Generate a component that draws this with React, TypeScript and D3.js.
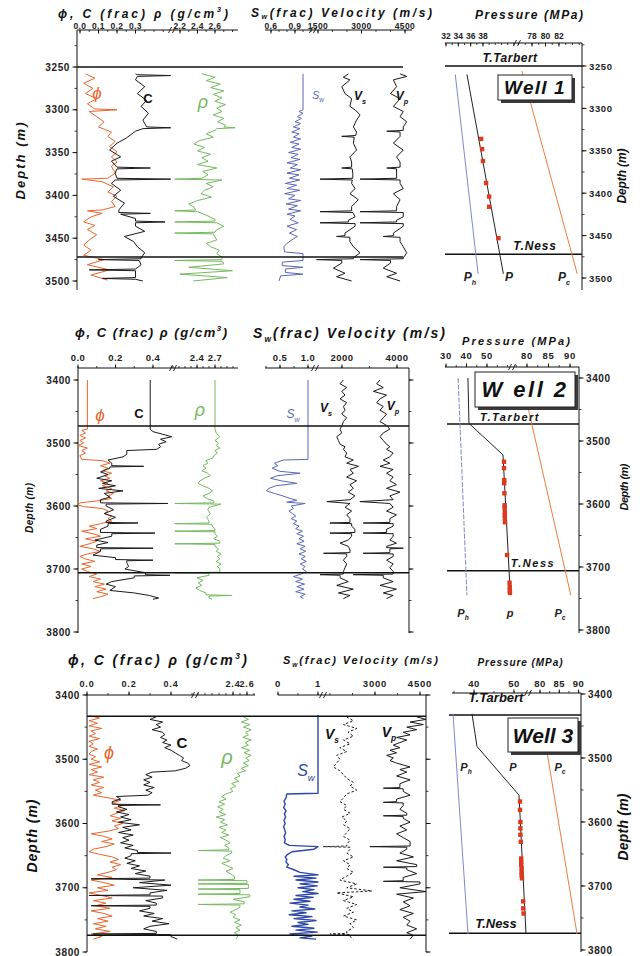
import React from "react";
import * as d3 from "d3";

type Pt = [number, number];

// ---------- Well 1 : log curves [depth (m), value] ----------
const w1Phi: Pt[] = [[3258,0.03],[3263,0.08],[3269,0.02],[3275,0.07],[3281,0.03],[3287,0.09],[3293,0.04],[3299,0.08],[3300,0.2],[3302,0.05],[3308,0.09],[3314,0.13],[3320,0.1],[3326,0.17],[3331,0.15],[3337,0.19],[3343,0.16],[3349,0.2],[3355,0.17],[3361,0.2],[3366,0.17],[3374,0.19],[3380,0.15],[3381,0.01],[3384,0.12],[3390,0.18],[3396,0.15],[3401,0.2],[3407,0.17],[3413,0.19],[3417,0.12],[3418,0.04],[3421,0.12],[3425,0.06],[3431,0.02],[3435,0.08],[3440,0.04],[3446,0.09],[3452,0.05],[3458,0.02],[3464,0.06],[3470,0.02],[3475,0.13],[3481,0.04],[3487,0.16],[3493,0.06],[3499,0.15]];
const w1C: Pt[] = [[3258,0.3],[3259,0.31],[3260,0.49],[3261,0.31],[3265,0.3],[3273,0.35],[3281,0.31],[3289,0.36],[3296,0.33],[3304,0.37],[3312,0.34],[3320,0.36],[3321,0.49],[3322,0.34],[3325,0.3],[3333,0.25],[3339,0.2],[3347,0.16],[3355,0.22],[3360,0.17],[3367,0.2],[3368,0.38],[3369,0.2],[3374,0.19],[3380,0.2],[3381,0.49],[3382,0.19],[3386,0.17],[3394,0.22],[3401,0.18],[3409,0.24],[3417,0.21],[3420,0.21],[3421,0.38],[3422,0.22],[3427,0.3],[3430,0.3],[3431,0.46],[3432,0.3],[3436,0.3],[3442,0.35],[3448,0.24],[3454,0.29],[3460,0.31],[3467,0.35],[3473,0.33],[3474,0.33],[3475,0.1],[3476,0.32],[3481,0.33],[3486,0.3],[3487,0.05],[3488,0.3],[3493,0.3],[3496,0.3],[3497,0.12],[3498,0.3],[3500,0.34]];
const w1Rho: Pt[] = [[3258,2.45],[3262,2.6],[3266,2.5],[3270,2.66],[3274,2.55],[3278,2.7],[3282,2.58],[3286,2.68],[3290,2.6],[3294,2.72],[3298,2.62],[3302,2.68],[3306,2.58],[3310,2.7],[3314,2.63],[3318,2.72],[3320,2.7],[3321,2.83],[3322,2.62],[3324,2.6],[3328,2.5],[3332,2.58],[3336,2.42],[3340,2.36],[3344,2.48],[3348,2.4],[3352,2.55],[3356,2.45],[3360,2.52],[3364,2.4],[3368,2.62],[3372,2.46],[3376,2.52],[3380,2.45],[3381,2.14],[3382,2.68],[3386,2.5],[3390,2.58],[3394,2.48],[3398,2.44],[3402,2.56],[3406,2.4],[3410,2.3],[3414,2.36],[3417,2.38],[3418,2.14],[3419,2.4],[3424,2.52],[3428,2.6],[3430,2.6],[3431,2.14],[3432,2.62],[3436,2.7],[3440,2.62],[3443,2.6],[3444,2.14],[3445,2.58],[3452,2.62],[3456,2.5],[3460,2.55],[3464,2.65],[3468,2.62],[3472,2.68],[3475,2.68],[3476,2.14],[3477,2.68],[3480,2.7],[3484,2.3],[3488,2.8],[3492,2.2],[3496,2.74],[3500,2.35]];
const w1Sw: Pt[] = [[3258,1],[3300,1],[3302,0.95],[3304,1],[3308,0.93],[3310,0.98],[3314,0.9],[3316,0.97],[3320,0.88],[3322,0.96],[3326,0.86],[3328,0.95],[3332,0.88],[3334,0.97],[3338,0.84],[3340,0.95],[3344,0.86],[3346,0.97],[3350,0.82],[3352,0.94],[3356,0.85],[3358,0.96],[3362,0.8],[3364,0.93],[3368,0.84],[3370,0.97],[3374,0.8],[3376,0.95],[3380,0.83],[3382,0.96],[3386,0.78],[3388,0.92],[3392,0.8],[3394,0.96],[3398,0.77],[3400,0.9],[3404,0.82],[3406,0.97],[3410,0.79],[3412,0.93],[3416,0.82],[3418,0.97],[3422,0.8],[3424,0.9],[3428,0.84],[3432,0.94],[3436,0.8],[3440,0.92],[3444,0.83],[3448,0.93],[3452,0.86],[3456,0.8],[3460,0.76],[3466,0.77],[3468,1],[3476,1],[3478,0.74],[3482,0.74],[3484,1],[3486,0.78],[3490,0.78],[3492,1],[3494,0.72],[3500,0.7]];
const w1Vs: Pt[] = [[3258,2550],[3262,2370],[3265,2600],[3273,2320],[3281,2430],[3287,2660],[3296,2600],[3300,2780],[3306,2950],[3312,2830],[3320,2720],[3326,2830],[3330,2800],[3331,2320],[3332,2750],[3339,2720],[3347,2830],[3355,2600],[3361,2660],[3367,2660],[3368,2320],[3369,2680],[3374,2700],[3380,2700],[3381,1570],[3382,2680],[3386,2660],[3392,2780],[3398,2600],[3405,2890],[3413,2660],[3418,2660],[3419,1570],[3420,2700],[3425,2780],[3429,2550],[3431,2550],[3432,1570],[3433,2780],[3436,2780],[3444,2430],[3447,2430],[3448,2140],[3449,2600],[3454,2600],[3460,2720],[3467,2950],[3473,2720],[3474,2720],[3475,1450],[3476,2320],[3479,2320],[3485,2030],[3491,2430],[3495,2140],[3500,2660]];
const w1Vp: Pt[] = [[3258,4330],[3261,4560],[3265,4100],[3273,4210],[3281,4000],[3287,4330],[3296,4100],[3302,4440],[3308,4330],[3314,4560],[3320,4440],[3324,4440],[3325,3870],[3326,4330],[3331,4330],[3339,4100],[3347,4440],[3355,4210],[3361,4330],[3367,4330],[3368,3870],[3369,4210],[3374,4210],[3380,4210],[3381,2950],[3382,4330],[3386,4330],[3392,4440],[3398,4100],[3405,4330],[3413,4210],[3418,4210],[3419,2950],[3420,4440],[3425,4440],[3429,4210],[3431,4210],[3432,2950],[3433,4440],[3436,4440],[3444,4100],[3447,4100],[3448,3750],[3449,4330],[3454,4330],[3460,4440],[3467,4560],[3473,4440],[3474,4440],[3475,2950],[3476,4000],[3479,4000],[3485,3750],[3491,4210],[3495,3870],[3500,4330]];
// Well 1 : pressure (MPa)
const w1Ph: Pt[] = [[3260,33.5],[3495,37.2]];
const w1P: Pt[] = [[3260,35.4],[3495,41.3]];
const w1Pc: Pt[] = [[3256,76.5],[3495,84.7]];
const w1Meas: Pt[] = [[3336,37.7],[3348,37.85],[3362,38.0],[3388,38.5],[3404,39.0],[3416,39.0],[3453,40.5]];
const w1Tops = [3250, 3472];
const w1DepthTicks = [3250, 3300, 3350, 3400, 3450, 3500];

// ---------- Well 2 ----------
const w2Phi: Pt[] = [[3400,0.05],[3478,0.05],[3480,0.02],[3484,0.04],[3488,0.01],[3492,0.04],[3496,0.01],[3500,0.03],[3504,0.0],[3508,0.05],[3512,0.02],[3516,0.04],[3520,0.01],[3526,0.02],[3528,0.13],[3532,0.17],[3536,0.12],[3540,0.16],[3544,0.13],[3548,0.18],[3552,0.14],[3556,0.17],[3560,0.12],[3564,0.16],[3568,0.13],[3572,0.18],[3576,0.15],[3580,0.19],[3584,0.16],[3588,0.18],[3592,0.1],[3595,0.01],[3598,0.0],[3601,0.03],[3604,0.13],[3608,0.16],[3612,0.14],[3616,0.18],[3620,0.16],[3624,0.18],[3628,0.12],[3632,0.06],[3636,0.1],[3640,0.02],[3644,0.08],[3648,0.12],[3652,0.04],[3656,0.1],[3660,0.06],[3664,0.01],[3668,0.08],[3672,0.12],[3676,0.05],[3680,0.01],[3684,0.04],[3688,0.09],[3692,0.02],[3696,0.07],[3700,0.02],[3704,0.05],[3708,0.1],[3712,0.06],[3716,0.12],[3720,0.08],[3724,0.14],[3728,0.09],[3732,0.15],[3736,0.1],[3740,0.16],[3744,0.12],[3747,0.08]];
const w2C: Pt[] = [[3400,0.385],[3478,0.385],[3482,0.4],[3486,0.45],[3490,0.5],[3494,0.44],[3498,0.47],[3502,0.43],[3506,0.44],[3510,0.42],[3512,0.26],[3518,0.26],[3522,0.24],[3527,0.16],[3532,0.18],[3536,0.18],[3537,0.35],[3538,0.17],[3540,0.17],[3546,0.12],[3550,0.16],[3556,0.1],[3560,0.18],[3564,0.13],[3568,0.2],[3572,0.11],[3576,0.24],[3580,0.14],[3586,0.17],[3590,0.12],[3595,0.12],[3596,0.48],[3597,0.15],[3600,0.15],[3606,0.19],[3612,0.14],[3618,0.2],[3624,0.15],[3626,0.15],[3627,0.32],[3628,0.16],[3632,0.16],[3637,0.12],[3642,0.12],[3643,0.41],[3644,0.18],[3648,0.18],[3654,0.09],[3658,0.16],[3662,0.1],[3666,0.1],[3667,0.4],[3668,0.12],[3672,0.12],[3678,0.08],[3682,0.2],[3685,0.2],[3686,0.4],[3687,0.26],[3690,0.26],[3696,0.27],[3700,0.25],[3706,0.36],[3709,0.36],[3710,0.49],[3711,0.3],[3714,0.3],[3720,0.18],[3724,0.15],[3728,0.2],[3734,0.17],[3738,0.3],[3742,0.38],[3746,0.43],[3748,0.4]];
const w2Rho: Pt[] = [[3400,2.7],[3478,2.7],[3484,2.72],[3490,2.78],[3496,2.7],[3500,2.76],[3504,2.72],[3508,2.78],[3512,2.7],[3516,2.74],[3520,2.68],[3524,2.66],[3528,2.55],[3532,2.58],[3536,2.5],[3540,2.55],[3544,2.48],[3548,2.58],[3552,2.62],[3556,2.52],[3560,2.45],[3564,2.42],[3568,2.5],[3572,2.6],[3576,2.66],[3580,2.6],[3584,2.5],[3588,2.56],[3592,2.68],[3595,2.68],[3596,2.03],[3597,2.8],[3602,2.6],[3606,2.58],[3612,2.62],[3618,2.56],[3624,2.6],[3627,2.6],[3628,2.03],[3629,2.65],[3632,2.65],[3636,2.7],[3639,2.7],[3640,2.03],[3641,2.7],[3644,2.7],[3648,2.74],[3652,2.68],[3656,2.78],[3659,2.78],[3660,2.03],[3661,2.7],[3664,2.7],[3668,2.76],[3672,2.72],[3676,2.8],[3680,2.74],[3684,2.78],[3688,2.72],[3692,2.8],[3696,2.74],[3700,2.78],[3705,2.78],[3706,2.03],[3707,2.6],[3710,2.6],[3714,2.4],[3718,2.5],[3722,2.42],[3726,2.48],[3730,2.38],[3734,2.44],[3738,2.55],[3741,2.55],[3742,2.98],[3743,2.6],[3746,2.6],[3748,2.65]];
const w2Sw: Pt[] = [[3400,1],[3526,1],[3527,0.56],[3532,0.4],[3536,0.46],[3540,0.36],[3545,0.5],[3548,0.86],[3552,0.45],[3556,0.33],[3560,0.52],[3564,0.8],[3568,0.42],[3572,0.3],[3576,0.26],[3580,0.4],[3584,0.55],[3588,0.68],[3591,0.8],[3594,0.62],[3596,0.95],[3600,0.7],[3604,0.74],[3608,0.66],[3612,0.72],[3616,0.78],[3620,0.7],[3624,0.8],[3628,0.74],[3632,0.84],[3636,0.78],[3640,0.9],[3644,0.8],[3648,0.92],[3652,0.84],[3656,0.93],[3660,0.8],[3664,0.95],[3668,0.86],[3672,0.96],[3676,0.84],[3680,0.95],[3684,0.88],[3688,0.97],[3692,0.86],[3696,0.95],[3700,0.9],[3704,0.97],[3708,0.88],[3712,0.74],[3716,0.9],[3720,0.78],[3724,0.94],[3728,0.8],[3732,0.93],[3736,0.78],[3740,0.95],[3744,0.86],[3747,0.92]];
const w2Vs: Pt[] = [[3400,2050],[3406,1930],[3412,2170],[3418,1990],[3424,2110],[3430,1930],[3436,2170],[3442,2050],[3448,2110],[3454,1990],[3460,2170],[3466,2050],[3472,2000],[3478,1930],[3484,1990],[3490,1810],[3496,1870],[3502,1930],[3506,2110],[3510,2050],[3516,2170],[3522,2110],[3527,2410],[3532,2170],[3537,2600],[3542,2290],[3548,2410],[3554,2170],[3560,2530],[3566,2290],[3572,2410],[3578,2230],[3584,2470],[3590,2290],[3593,1450],[3596,2290],[3602,2110],[3608,2350],[3614,2170],[3620,2290],[3626,2290],[3627,1560],[3628,2350],[3632,2350],[3637,2470],[3642,2470],[3643,1560],[3644,2350],[3648,2350],[3654,2230],[3659,1930],[3664,2230],[3670,2290],[3674,2290],[3675,1330],[3676,2170],[3680,2170],[3686,2050],[3692,2170],[3698,2110],[3704,2050],[3708,2050],[3709,1200],[3710,1930],[3714,1930],[3720,2230],[3726,1810],[3732,2410],[3738,1870],[3742,2290],[3747,2050]];
const w2Vp: Pt[] = [[3400,3380],[3406,3260],[3412,3500],[3418,3140],[3424,3620],[3430,3380],[3436,3260],[3442,3500],[3448,3380],[3454,3620],[3460,3500],[3466,3380],[3472,3620],[3478,3740],[3484,3500],[3490,3380],[3496,3500],[3502,3620],[3506,3740],[3510,3620],[3516,3860],[3522,3740],[3527,3500],[3532,3740],[3537,3380],[3542,3860],[3548,3620],[3554,3860],[3560,3740],[3566,3980],[3572,3620],[3578,4110],[3584,3740],[3590,3860],[3593,2650],[3596,3740],[3602,3860],[3608,3620],[3614,3980],[3620,3740],[3626,3740],[3627,2770],[3628,3860],[3632,3860],[3637,3620],[3642,3620],[3643,2770],[3644,3860],[3648,3860],[3654,3740],[3659,3980],[3664,3620],[3666,3620],[3667,4230],[3668,3740],[3672,3740],[3674,3740],[3675,2770],[3676,3860],[3680,3860],[3686,3620],[3692,3860],[3698,3740],[3704,3860],[3708,3860],[3709,2410],[3710,3500],[3714,3500],[3720,3860],[3726,3380],[3732,3980],[3738,3500],[3742,3860],[3747,3620]];
const w2Ph: Pt[] = [[3400,35.9],[3745,40.2]];
const w2P: Pt[] = [[3400,40.7],[3472,41.2],[3522,57.8],[3745,61.4]];
const w2Pc: Pt[] = [[3446,80.2],[3745,90.2]];
const w2Meas: Pt[] = [[3533,58.3],[3543,58.3],[3562,58.4],[3567,58.4],[3583,58.5],[3602,58.6],[3606,58.6],[3613,58.7],[3617,58.7],[3622,58.7],[3629,58.8],[3681,59.8],[3725,61.0],[3732,61.1],[3737,61.1],[3741,61.2]];
const w2Tops = [3473, 3706];
const w2DepthTicks = [3400, 3500, 3600, 3700, 3800];

// ---------- Well 3 ----------
const w3Phi: Pt[] = [[3432,0.01],[3436,0.06],[3440,0.01],[3444,0.05],[3448,0.01],[3452,0.07],[3456,0.02],[3460,0.04],[3464,0.01],[3468,0.06],[3472,0.01],[3476,0.03],[3480,0.01],[3484,0.05],[3488,0.02],[3492,0.01],[3496,0.04],[3500,0.02],[3504,0.06],[3508,0.01],[3512,0.07],[3516,0.02],[3520,0.05],[3524,0.01],[3528,0.08],[3532,0.03],[3536,0.06],[3540,0.02],[3544,0.08],[3548,0.04],[3552,0.07],[3556,0.03],[3560,0.1],[3564,0.16],[3568,0.12],[3572,0.17],[3576,0.13],[3580,0.18],[3584,0.14],[3588,0.11],[3592,0.16],[3596,0.12],[3600,0.17],[3604,0.13],[3608,0.15],[3612,0.1],[3616,0.02],[3620,0.08],[3624,0.12],[3628,0.07],[3632,0.13],[3636,0.09],[3640,0.03],[3644,0.01],[3648,0.06],[3652,0.12],[3656,0.15],[3660,0.11],[3664,0.16],[3668,0.12],[3672,0.14],[3676,0.1],[3680,0.05],[3684,0.12],[3688,0.02],[3692,0.08],[3696,0.13],[3700,0.05],[3704,0.1],[3708,0.01],[3712,0.07],[3716,0.12],[3720,0.03],[3724,0.09],[3728,0.04],[3732,0.11],[3736,0.02],[3740,0.08],[3744,0.12],[3748,0.05],[3752,0.1],[3756,0.03],[3760,0.09],[3764,0.04],[3768,0.11],[3772,0.02],[3776,0.07],[3780,0.03]];
const w3C: Pt[] = [[3434,0.33],[3438,0.3],[3442,0.36],[3446,0.33],[3450,0.35],[3454,0.31],[3458,0.36],[3462,0.37],[3466,0.35],[3470,0.38],[3474,0.36],[3478,0.4],[3482,0.37],[3486,0.4],[3490,0.42],[3494,0.44],[3498,0.46],[3502,0.45],[3506,0.48],[3510,0.49],[3514,0.47],[3518,0.42],[3520,0.31],[3524,0.28],[3528,0.31],[3532,0.27],[3536,0.3],[3540,0.27],[3544,0.32],[3548,0.28],[3552,0.31],[3556,0.29],[3558,0.14],[3562,0.16],[3566,0.12],[3570,0.12],[3571,0.35],[3572,0.15],[3574,0.15],[3578,0.19],[3582,0.14],[3586,0.2],[3590,0.16],[3594,0.21],[3598,0.15],[3602,0.25],[3606,0.17],[3610,0.21],[3614,0.15],[3618,0.22],[3622,0.17],[3626,0.2],[3630,0.16],[3634,0.22],[3638,0.18],[3642,0.24],[3645,0.24],[3646,0.4],[3647,0.21],[3650,0.21],[3654,0.18],[3658,0.23],[3662,0.19],[3666,0.25],[3670,0.21],[3674,0.28],[3678,0.23],[3682,0.3],[3685,0.3],[3686,0.02],[3688,0.37],[3692,0.25],[3696,0.4],[3700,0.22],[3704,0.38],[3708,0.3],[3711,0.3],[3712,0.01],[3713,0.36],[3716,0.36],[3720,0.28],[3724,0.33],[3727,0.33],[3728,0.02],[3729,0.3],[3732,0.3],[3736,0.25],[3740,0.32],[3744,0.27],[3748,0.36],[3752,0.31],[3756,0.39],[3760,0.3],[3764,0.27],[3768,0.33],[3771,0.33],[3772,0.03],[3773,0.4],[3776,0.4],[3780,0.43]];
const w3Rho: Pt[] = [[3434,2.55],[3438,2.62],[3442,2.52],[3446,2.64],[3450,2.55],[3454,2.66],[3458,2.58],[3462,2.62],[3466,2.54],[3470,2.66],[3474,2.57],[3478,2.62],[3482,2.52],[3486,2.64],[3490,2.56],[3494,2.66],[3498,2.58],[3502,2.63],[3506,2.55],[3510,2.62],[3514,2.52],[3518,2.58],[3522,2.46],[3526,2.5],[3530,2.42],[3534,2.48],[3538,2.38],[3542,2.44],[3546,2.36],[3550,2.4],[3554,2.3],[3558,2.24],[3562,2.3],[3566,2.2],[3570,2.28],[3574,2.18],[3578,2.26],[3582,2.2],[3586,2.3],[3590,2.16],[3594,2.28],[3598,2.22],[3602,2.32],[3606,2.2],[3610,2.3],[3614,2.24],[3618,2.34],[3622,2.22],[3626,2.3],[3630,2.36],[3634,2.28],[3638,2.34],[3641,2.34],[3642,1.9],[3643,2.38],[3646,2.38],[3650,2.3],[3654,2.26],[3658,2.36],[3662,2.24],[3666,2.32],[3670,2.4],[3674,2.3],[3678,2.36],[3682,2.42],[3687,2.42],[3688,1.9],[3689,2.6],[3693,2.6],[3694,1.9],[3695,2.62],[3698,2.62],[3701,2.62],[3702,1.9],[3703,2.5],[3706,2.5],[3709,2.5],[3710,1.9],[3711,2.64],[3714,2.64],[3718,2.4],[3722,2.56],[3725,2.56],[3726,1.9],[3727,2.5],[3730,2.5],[3734,2.44],[3738,2.36],[3742,2.44],[3746,2.4],[3750,2.5],[3754,2.42],[3758,2.52],[3762,2.44],[3766,2.5],[3770,2.42],[3774,2.48],[3780,2.44]];
const w3Sw: Pt[] = [[3431,1],[3553,1],[3554,0.22],[3560,0.2],[3565,0.15],[3570,0.18],[3575,0.14],[3580,0.2],[3585,0.16],[3590,0.19],[3595,0.15],[3600,0.18],[3605,0.14],[3610,0.17],[3615,0.19],[3620,0.15],[3625,0.18],[3630,0.16],[3634,0.28],[3636,1],[3640,0.9],[3644,0.35],[3648,0.24],[3652,0.18],[3656,0.22],[3660,0.2],[3664,0.26],[3668,0.22],[3672,0.4],[3676,0.55],[3680,1],[3682,0.4],[3685,0.95],[3688,0.45],[3691,1],[3694,0.55],[3697,0.98],[3700,0.5],[3703,0.9],[3706,0.62],[3709,1],[3712,0.45],[3715,0.88],[3718,0.4],[3721,0.8],[3724,0.3],[3727,0.75],[3730,0.55],[3733,0.92],[3736,0.35],[3739,0.7],[3742,0.28],[3745,0.85],[3748,0.4],[3751,0.95],[3754,0.5],[3757,0.75],[3760,0.35],[3763,0.9],[3766,0.45],[3769,0.98],[3772,0.3],[3775,0.85],[3778,0.55],[3780,0.95]];
const w3Vs: Pt[] = [[3434,2050],[3440,2280],[3446,1950],[3452,2390],[3458,2100],[3464,2280],[3470,1950],[3476,2170],[3482,1830],[3488,2060],[3494,1720],[3500,1830],[3506,1720],[3512,1610],[3518,1830],[3524,1950],[3530,2060],[3536,2280],[3542,2170],[3548,2390],[3554,2060],[3560,1950],[3566,1830],[3572,2060],[3578,1950],[3584,2170],[3590,1900],[3596,2060],[3602,1950],[3608,2170],[3614,2060],[3620,1950],[3626,2170],[3632,2060],[3635,2060],[3636,1270],[3637,2170],[3640,2170],[3646,2060],[3652,2280],[3658,1950],[3664,2170],[3670,2060],[3676,2280],[3682,2060],[3688,1830],[3694,2390],[3700,2060],[3705,2900],[3708,1720],[3714,2280],[3720,1950],[3726,2390],[3732,2060],[3738,2280],[3744,1950],[3750,2390],[3756,2170],[3762,2280],[3768,2060],[3771,2060],[3772,1500],[3773,2170],[3776,2170],[3780,2280]];
const w3Vp: Pt[] = [[3434,4390],[3438,4700],[3442,4170],[3446,4610],[3450,4060],[3454,4390],[3458,3940],[3462,4170],[3466,3720],[3470,4060],[3474,3830],[3478,3610],[3482,3830],[3486,3500],[3490,3720],[3494,3390],[3498,3610],[3502,3500],[3506,3720],[3512,4170],[3516,3830],[3520,4060],[3526,3720],[3532,4170],[3538,3830],[3544,3830],[3545,3280],[3546,3940],[3550,3940],[3556,4170],[3562,3720],[3566,3720],[3567,3280],[3568,3940],[3572,3940],[3578,3830],[3584,4060],[3587,4060],[3588,3280],[3589,3940],[3592,3940],[3598,4170],[3604,3830],[3610,4060],[3616,3720],[3622,3940],[3628,4170],[3635,4170],[3636,2830],[3637,4060],[3640,4060],[3646,3830],[3652,4280],[3658,3720],[3664,4390],[3667,4390],[3668,3280],[3669,4060],[3672,4060],[3678,4390],[3684,3940],[3689,3940],[3690,3280],[3691,4500],[3694,4500],[3700,3830],[3706,4700],[3710,3720],[3716,4280],[3722,3940],[3728,4170],[3734,3830],[3740,4280],[3746,3940],[3752,4170],[3758,4060],[3764,4390],[3770,4060],[3774,4280],[3780,4170]];
const w3Ph: Pt[] = [[3431,34.75],[3775,38.5]];
const w3P: Pt[] = [[3431,39.5],[3482,40.75],[3558,51.25],[3775,53]];
const w3Pc: Pt[] = [[3490,81.8],[3775,89.6]];
const w3Meas: Pt[] = [[3568,51.5],[3581,51.5],[3600,51.6],[3610,51.6],[3620,51.6],[3631,51.7],[3657,51.8],[3662,51.8],[3667,51.8],[3672,51.9],[3678,51.9],[3683,51.9],[3688,52.0],[3724,52.3],[3735,52.3],[3743,52.4]];
const w3Tops = [3433, 3774];
const w3DepthTicks = [3400, 3500, 3600, 3700, 3800];

const FONT = "'Liberation Sans', Arial, Helvetica, sans-serif";
const ORANGE = "#e8652e";
const GREEN = "#74b95f";
const BLUE = "#5a67b8";
const BLUE3 = "#2c47a6";
const PH_BLUE = "#7f88cc";
const PC_ORANGE = "#ec7c40";
const RED = "#db3a1e";

type Seg = {
  scale: d3.ScaleLinear<number, number>;
  from: number;
  to: number;
  ticks: number[];
  minor: number;
  fmt: (v: number) => string;
};

const f1 = d3.format(".1f");
const fd = d3.format("d");

function TopAxis({ y, segs, labelY, size = 9, spacing = 0.3, dir = -1 }: { y: number; segs: Seg[]; labelY: number; size?: number; spacing?: number; dir?: number }) {
  const els: React.ReactNode[] = [];
  segs.forEach((s, i) => {
    els.push(<line key={`l${i}`} x1={s.from} x2={s.to} y1={y} y2={y} stroke="#111" strokeWidth={1} />);
    const a = s.scale.invert(s.from), b = s.scale.invert(s.to);
    const lo = Math.min(a, b), hi = Math.max(a, b);
    d3.range(Math.ceil(lo / s.minor - 1e-6) * s.minor, hi + 1e-9, s.minor).forEach((m, j) => {
      const x = s.scale(m);
      els.push(<line key={`m${i}-${j}`} x1={x} x2={x} y1={y} y2={y + dir * 2} stroke="#111" strokeWidth={0.8} />);
    });
    s.ticks.forEach((t, j) => {
      const x = s.scale(t);
      els.push(<line key={`t${i}-${j}`} x1={x} x2={x} y1={y} y2={y + dir * 3.5} stroke="#111" strokeWidth={1} />);
      els.push(
        <text key={`x${i}-${j}`} x={x} y={labelY} textAnchor="middle" fontSize={size} fontWeight="bold" letterSpacing={spacing} fill="#222">
          {s.fmt(t)}
        </text>
      );
    });
    if (i > 0) {
      const x = s.from;
      els.push(<line key={`b${i}a`} x1={x - 3.5} y1={y + 3} x2={x - 0.5} y2={y - 3} stroke="#111" strokeWidth={0.9} />);
      els.push(<line key={`b${i}b`} x1={x + 0.5} y1={y + 3} x2={x + 3.5} y2={y - 3} stroke="#111" strokeWidth={0.9} />);
    }
  });
  return <g>{els}</g>;
}

function DepthAxis({ x, y0, y1, scale, ticks, minor, side, labels, size = 10 }: {
  x: number; y0: number; y1: number; scale: d3.ScaleLinear<number, number>; ticks: number[]; minor: number; side: number; labels: boolean; size?: number;
}) {
  const [d0, d1] = [scale.invert(y0), scale.invert(y1)];
  const minors = d3.range(Math.ceil(d0 / minor) * minor, d1 + 1e-9, minor);
  return (
    <g>
      <line x1={x} x2={x} y1={y0} y2={y1} stroke="#111" strokeWidth={1} />
      {minors.map((m, i) => (
        <line key={`m${i}`} x1={x} x2={x + side * 2.5} y1={scale(m)} y2={scale(m)} stroke="#111" strokeWidth={0.8} />
      ))}
      {ticks.map((t) => (
        <g key={t}>
          <line x1={x} x2={x + side * 4.5} y1={scale(t)} y2={scale(t)} stroke="#111" strokeWidth={1} />
          {labels && (
            <text x={x + side * 7} y={scale(t) + 3.5} textAnchor={side < 0 ? "end" : "start"} fontSize={size} fontWeight="bold" letterSpacing={0.6} fill="#222">
              {fd(t)}
            </text>
          )}
        </g>
      ))}
    </g>
  );
}

type Curve = { data: Pt[]; scale: d3.ScaleLinear<number, number>; color: string; width?: number; dash?: string };

function Curves({ curves, depth }: { curves: Curve[]; depth: d3.ScaleLinear<number, number> }) {
  return (
    <g fill="none">
      {curves.map((c, i) => {
        const line = d3.line<Pt>().x((p) => c.scale(p[1])).y((p) => depth(p[0]));
        return <path key={i} d={line(c.data) || ""} stroke={c.color} strokeWidth={c.width ?? 1} strokeDasharray={c.dash} strokeLinejoin="round" />;
      })}
    </g>
  );
}

function WellBox({ x, y, w, h, label, size, spacing }: { x: number; y: number; w: number; h: number; label: string; size: number; spacing: number }) {
  return (
    <g>
      <rect x={x + 3} y={y + 3} width={w} height={h} fill="#3a3a3a" />
      <rect x={x} y={y} width={w} height={h} fill="#fff" stroke="#222" strokeWidth={1} />
      <text x={x + w / 2} y={y + h / 2 + size * 0.36} textAnchor="middle" fontSize={size} fontWeight="bold" fontStyle="italic" letterSpacing={spacing} fill="#111">
        {label}
      </text>
    </g>
  );
}

function Sub({ base, sub, x, y, size, color, bold = true, italic = true }: { base: string; sub: string; x: number; y: number; size: number; color: string; bold?: boolean; italic?: boolean }) {
  return (
    <text x={x} y={y} fontSize={size} fill={color} fontWeight={bold ? "bold" : "normal"} fontStyle={italic ? "italic" : "normal"} textAnchor="middle">
      {base}
      <tspan fontSize={size * 0.6} dy={size * 0.3}>{sub}</tspan>
    </text>
  );
}

function Title1({ x, y, size, len }: { x: number; y: number; size: number; len: number }) {
  return (
    <text x={x} y={y} fontSize={size} fontWeight="bold" fontStyle="italic" fill="#111" textLength={len} lengthAdjust="spacing">
      ϕ, C (frac) ρ (g/cm<tspan fontSize={size * 0.6} dy={-size * 0.45}>3</tspan><tspan dy={size * 0.45}>)</tspan>
    </text>
  );
}

function Title2({ x, y, size, len, sub = 0.3 }: { x: number; y: number; size: number; len: number; sub?: number }) {
  return (
    <text x={x} y={y} fontSize={size} fontWeight="bold" fontStyle="italic" fill="#111" textLength={len} lengthAdjust="spacing">
      S<tspan fontSize={size * 0.6} dy={size * sub}>w</tspan><tspan dy={-size * sub}>(frac) Velocity (m/s)</tspan>
    </text>
  );
}

function VText({ x, y, size, text, len }: { x: number; y: number; size: number; text: string; len: number }) {
  return (
    <text transform={`translate(${x},${y}) rotate(-90)`} textAnchor="middle" fontSize={size} fontWeight="bold" fontStyle="italic" fill="#111" textLength={len} lengthAdjust="spacing">
      {text}
    </text>
  );
}

function Well1() {
  const dLog = d3.scaleLinear().domain([3250, 3500]).range([67, 281]);
  const dPr = d3.scaleLinear().domain([3250, 3500]).range([66, 278]);
  const phi = d3.scaleLinear().domain([0, 0.3]).range([80, 135.5]);
  const rho = d3.scaleLinear().domain([2.2, 2.6]).range([180, 215]);
  const sw = d3.scaleLinear().domain([0.6, 1.0]).range([271, 303]);
  const vel = d3.scaleLinear().domain([1500, 4500]).range([318, 405]);
  const p1 = d3.scaleLinear().domain([32, 38]).range([446, 483]);
  const p2 = d3.scaleLinear().domain([78, 82]).range([532, 559]);
  return (
    <g>
      <Title1 x={58} y={17.5} size={12} len={170} />
      <Title2 x={251} y={17} size={12} len={181} sub={0.15} />
      <text x={529} y={19} textAnchor="middle" fontSize={12} fontWeight="bold" fontStyle="italic" fill="#111" textLength={108} lengthAdjust="spacing">Pressure (MPa)</text>
      <TopAxis y={30} labelY={28.5} size={8.5} spacing={0.4} dir={1} segs={[
        { scale: phi, from: 77, to: 172, ticks: [0, 0.1, 0.2, 0.3], minor: 0.05, fmt: f1 },
        { scale: rho, from: 172, to: 238, ticks: [2.2, 2.4, 2.6], minor: 0.1, fmt: f1 },
      ]} />
      <TopAxis y={30} labelY={28.5} size={8.5} spacing={0.4} dir={1} segs={[
        { scale: sw, from: 265, to: 313, ticks: [0.6, 0.9], minor: 0.1, fmt: f1 },
        { scale: vel, from: 313, to: 412, ticks: [1500, 3000, 4500], minor: 500, fmt: fd },
      ]} />
      <TopAxis y={43} labelY={38.5} size={8.5} spacing={0} dir={1} segs={[
        { scale: p1, from: 445, to: 517, ticks: [32, 34, 36, 38], minor: 1, fmt: fd },
        { scale: p2, from: 517, to: 582, ticks: [78, 80, 82], minor: 1, fmt: fd },
      ]} />
      <DepthAxis x={77} y0={30} y1={290} scale={dLog} ticks={w1DepthTicks} minor={25} side={-1} labels />
      <DepthAxis x={582} y0={43} y1={290} scale={dPr} ticks={w1DepthTicks} minor={25} side={1} labels size={9.5} />
      <VText x={25} y={161} size={13} text="Depth (m)" len={77} />
      <VText x={626} y={176} size={12} text="Depth (m)" len={55} />
      <Curves depth={dLog} curves={[
        { data: w1Phi, scale: phi, color: ORANGE },
        { data: w1C, scale: phi, color: "#1a1a1a" },
        { data: w1Rho, scale: rho, color: GREEN },
        { data: w1Sw, scale: sw, color: BLUE },
        { data: w1Vs, scale: vel, color: "#1a1a1a" },
        { data: w1Vp, scale: vel, color: "#1a1a1a" },
      ]} />
      {w1Tops.map((t) => (
        <g key={t}>
          <line x1={77} x2={403} y1={dLog(t)} y2={dLog(t)} stroke="#111" strokeWidth={1.5} />
          <line x1={445} x2={582} y1={dPr(t)} y2={dPr(t)} stroke="#111" strokeWidth={1.5} />
        </g>
      ))}
      <Curves depth={dPr} curves={[
        { data: w1Ph, scale: p1, color: PH_BLUE },
        { data: w1P, scale: p1, color: "#222" },
        { data: w1Pc, scale: p2, color: PC_ORANGE },
      ]} />
      {w1Meas.map((m, i) => (
        <rect key={i} x={p1(m[1]) - 2.2} y={dPr(m[0]) - 2.2} width={4.4} height={4.4} fill={RED} />
      ))}
      <text x={510} y={62} textAnchor="middle" fontSize={12} fontWeight="bold" fontStyle="italic" fill="#111" letterSpacing={0.5}>T.Tarbert</text>
      <text x={535} y={250} textAnchor="middle" fontSize={12} fontWeight="bold" fontStyle="italic" fill="#111" letterSpacing={0.8}>T.Ness</text>
      <WellBox x={498} y={75} w={74} h={25} label="Well 1" size={19} spacing={1.2} />
      <Sub base="P" sub="h" x={470} y={281} size={12} color="#222" />
      <text x={509} y={281} textAnchor="middle" fontSize={12} fontWeight="bold" fontStyle="italic" fill="#222">P</text>
      <Sub base="P" sub="c" x={564} y={281} size={12} color="#222" />
      <text x={97} y={99} textAnchor="middle" fontSize={17} fontStyle="italic" fill={ORANGE}>ϕ</text>
      <text x={148} y={103} textAnchor="middle" fontSize={13} fontWeight="bold" fill="#111">C</text>
      <text x={203} y={108} textAnchor="middle" fontSize={18} fontStyle="italic" fill={GREEN}>ρ</text>
      <Sub base="S" sub="w" x={318} y={99} size={11} color={BLUE} bold={false} />
      <Sub base="V" sub="s" x={360} y={100} size={12} color="#111" />
      <Sub base="V" sub="p" x={402} y={100} size={12} color="#111" />
    </g>
  );
}

function Well2() {
  const dLog = d3.scaleLinear().domain([3400, 3700]).range([380, 569]);
  const dPr = d3.scaleLinear().domain([3400, 3700]).range([378, 567]);
  const phi = d3.scaleLinear().domain([0, 0.4]).range([78, 153]);
  const rho = d3.scaleLinear().domain([2.4, 2.7]).range([197, 215]);
  const sw = d3.scaleLinear().domain([0.5, 1.0]).range([280, 308]);
  const vel = d3.scaleLinear().domain([2000, 4000]).range([342, 397]);
  const p1 = d3.scaleLinear().domain([30, 50]).range([446, 487]);
  const p2 = d3.scaleLinear().domain([80, 90]).range([527, 570]);
  return (
    <g>
      <Title1 x={75} y={337} size={13} len={152} />
      <Title2 x={253} y={338} size={14} len={192} />
      <text x={516} y={345} textAnchor="middle" fontSize={11} fontWeight="bold" fontStyle="italic" fill="#111" textLength={108} lengthAdjust="spacing">Pressure (MPa)</text>
      <TopAxis y={368} labelY={361} size={9.5} spacing={0.5} segs={[
        { scale: phi, from: 78, to: 173, ticks: [0, 0.2, 0.4], minor: 0.1, fmt: f1 },
        { scale: rho, from: 173, to: 238, ticks: [2.4, 2.7], minor: 0.1, fmt: f1 },
      ]} />
      <TopAxis y={368} labelY={361} size={9.5} spacing={0.5} segs={[
        { scale: sw, from: 265, to: 315, ticks: [0.5, 1.0], minor: 0.25, fmt: f1 },
        { scale: vel, from: 315, to: 409, ticks: [2000, 4000], minor: 1000, fmt: fd },
      ]} />
      <TopAxis y={367} labelY={359} size={9.5} spacing={0.8} segs={[
        { scale: p1, from: 445, to: 512, ticks: [30, 40, 50], minor: 5, fmt: fd },
        { scale: p2, from: 512, to: 579, ticks: [80, 85, 90], minor: 2.5, fmt: fd },
      ]} />
      <DepthAxis x={78} y0={368} y1={633} scale={dLog} ticks={w2DepthTicks} minor={50} side={-1} labels />
      <DepthAxis x={409} y0={368} y1={633} scale={dLog} ticks={w2DepthTicks} minor={50} side={1} labels={false} />
      <DepthAxis x={579} y0={367} y1={633} scale={dPr} ticks={w2DepthTicks} minor={50} side={1} labels />
      <VText x={33} y={508} size={10} text="Depth (m)" len={50} />
      <VText x={628} y={487} size={11} text="Depth (m)" len={47} />
      <Curves depth={dLog} curves={[
        { data: w2Phi, scale: phi, color: ORANGE },
        { data: w2C, scale: phi, color: "#1a1a1a" },
        { data: w2Rho, scale: rho, color: GREEN },
        { data: w2Sw, scale: sw, color: BLUE },
        { data: w2Vs, scale: vel, color: "#1a1a1a" },
        { data: w2Vp, scale: vel, color: "#1a1a1a" },
      ]} />
      {w2Tops.map((t) => (
        <g key={t}>
          <line x1={78} x2={409} y1={dLog(t)} y2={dLog(t)} stroke="#111" strokeWidth={1.5} />
          <line x1={447} x2={579} y1={dPr(t)} y2={dPr(t)} stroke="#111" strokeWidth={1.5} />
        </g>
      ))}
      <Curves depth={dPr} curves={[
        { data: w2Ph, scale: p1, color: PH_BLUE, dash: "5,1.5" },
        { data: w2P, scale: p1, color: "#222" },
        { data: w2Pc, scale: p2, color: PC_ORANGE },
      ]} />
      {w2Meas.map((m, i) => (
        <rect key={i} x={p1(m[1]) - 2.2} y={dPr(m[0]) - 2.2} width={4.4} height={4.4} fill={RED} />
      ))}
      <text x={510} y={421} textAnchor="middle" fontSize={11} fontWeight="bold" fontStyle="italic" fill="#111" letterSpacing={1.5}>T.Tarbert</text>
      <text x={533} y={567} textAnchor="middle" fontSize={11} fontWeight="bold" fontStyle="italic" fill="#111" letterSpacing={1.5}>T.Ness</text>
      <WellBox x={475} y={372} w={100} h={35} label="W ell 2" size={22} spacing={2.5} />
      <Sub base="P" sub="h" x={463} y={617} size={11} color="#222" />
      <text x={510} y={617} textAnchor="middle" fontSize={11} fontWeight="bold" fontStyle="italic" fill="#222">p</text>
      <Sub base="P" sub="c" x={560} y={617} size={11} color="#222" />
      <text x={100} y={421} textAnchor="middle" fontSize={17} fontStyle="italic" fill={ORANGE}>ϕ</text>
      <text x={139} y={418} textAnchor="middle" fontSize={13} fontWeight="bold" fill="#111">C</text>
      <text x={200} y={416} textAnchor="middle" fontSize={18} fontStyle="italic" fill={GREEN}>ρ</text>
      <Sub base="S" sub="w" x={293} y={418} size={12} color={BLUE} bold={false} />
      <Sub base="V" sub="s" x={326} y={412} size={12} color="#111" />
      <Sub base="V" sub="p" x={393} y={410} size={12} color="#111" />
    </g>
  );
}

function Well3() {
  const dLog = d3.scaleLinear().domain([3400, 3800]).range([695, 952]);
  const dPr = d3.scaleLinear().domain([3400, 3800]).range([694, 950]);
  const phi = d3.scaleLinear().domain([0, 0.4]).range([87, 171]);
  const rho = d3.scaleLinear().domain([2.4, 2.6]).range([233, 247]);
  const sw = d3.scaleLinear().domain([0, 1]).range([278, 318]);
  const vel = d3.scaleLinear().domain([3000, 4500]).range([375, 420]);
  const p1 = d3.scaleLinear().domain([40, 50]).range([474, 514]);
  const p2 = d3.scaleLinear().domain([80, 90]).range([540, 578.6]);
  return (
    <g>
      <Title1 x={68} y={665} size={14} len={179} />
      <Title2 x={283} y={664} size={11} len={155} />
      <text x={520} y={666} textAnchor="middle" fontSize={10} fontWeight="bold" fontStyle="italic" fill="#111" textLength={85} lengthAdjust="spacing">Pressure (MPa)</text>
      <TopAxis y={695} labelY={687} size={9} spacing={0.8} segs={[
        { scale: phi, from: 87, to: 195, ticks: [0, 0.2, 0.4], minor: 0.1, fmt: f1 },
        { scale: rho, from: 195, to: 255, ticks: [2.4, 2.6], minor: 0.1, fmt: f1 },
      ]} />
      <TopAxis y={695} labelY={687} size={9.5} spacing={0.8} segs={[
        { scale: sw, from: 278, to: 323, ticks: [0, 1], minor: 0.5, fmt: fd },
        { scale: vel, from: 323, to: 426, ticks: [3000, 4500], minor: 750, fmt: fd },
      ]} />
      <TopAxis y={693} labelY={687} size={9.5} spacing={0.5} segs={[
        { scale: p1, from: 452, to: 528, ticks: [40, 50], minor: 5, fmt: fd },
        { scale: p2, from: 528, to: 581, ticks: [80, 85, 90], minor: 2.5, fmt: fd },
      ]} />
      <DepthAxis x={87} y0={695} y1={952} scale={dLog} ticks={w3DepthTicks} minor={50} side={-1} labels />
      <DepthAxis x={426} y0={695} y1={952} scale={dLog} ticks={w3DepthTicks} minor={50} side={1} labels={false} />
      <DepthAxis x={581} y0={693} y1={952} scale={dPr} ticks={w3DepthTicks} minor={50} side={1} labels />
      <VText x={37} y={836} size={14} text="Depth (m)" len={73} />
      <VText x={628} y={827} size={14} text="Depth (m)" len={67} />
      <Curves depth={dLog} curves={[
        { data: w3Phi, scale: phi, color: ORANGE },
        { data: w3C, scale: phi, color: "#1a1a1a" },
        { data: w3Rho, scale: rho, color: GREEN },
        { data: w3Sw, scale: sw, color: BLUE3, width: 1.4 },
        { data: w3Vs, scale: vel, color: "#1a1a1a", dash: "2.5,2" },
        { data: w3Vp, scale: vel, color: "#1a1a1a" },
      ]} />
      {w3Tops.map((t) => (
        <g key={t}>
          <line x1={87} x2={426} y1={dLog(t)} y2={dLog(t)} stroke="#111" strokeWidth={1.5} />
          <line x1={449} x2={581} y1={dPr(t)} y2={dPr(t)} stroke="#111" strokeWidth={1.5} />
        </g>
      ))}
      <Curves depth={dPr} curves={[
        { data: w3Ph, scale: p1, color: PH_BLUE },
        { data: w3P, scale: p1, color: "#222" },
        { data: w3Pc, scale: p2, color: PC_ORANGE },
      ]} />
      {w3Meas.map((m, i) => (
        <rect key={i} x={p1(m[1]) - 2.2} y={dPr(m[0]) - 2.2} width={4.4} height={4.4} fill={RED} />
      ))}
      <text x={496} y={702} textAnchor="middle" fontSize={13} fontWeight="bold" fontStyle="italic" fill="#111">T.Tarbert</text>
      <text x={496} y={928} textAnchor="middle" fontSize={13} fontWeight="bold" fontStyle="italic" fill="#111">T.Ness</text>
      <WellBox x={508} y={718} w={70} h={34} label="Well 3" size={21} spacing={0} />
      <Sub base="P" sub="h" x={466} y={771} size={11} color="#222" />
      <text x={513} y={771} textAnchor="middle" fontSize={11} fontWeight="bold" fontStyle="italic" fill="#222">P</text>
      <Sub base="P" sub="c" x={560} y={771} size={11} color="#222" />
      <text x={109} y={759} textAnchor="middle" fontSize={18} fontStyle="italic" fill={ORANGE}>ϕ</text>
      <text x={182} y={748} textAnchor="middle" fontSize={15} fontWeight="bold" fill="#111">C</text>
      <text x={227} y={764} textAnchor="middle" fontSize={20} fontStyle="italic" fill={GREEN}>ρ</text>
      <Sub base="S" sub="w" x={306} y={776} size={16} color={BLUE3} bold={false} />
      <Sub base="V" sub="s" x={332} y={739} size={14} color="#111" />
      <Sub base="V" sub="p" x={389} y={737} size={14} color="#111" />
    </g>
  );
}

export default function App() {
  return (
    <svg width={640} height={956} viewBox="0 0 640 956" style={{ position: "absolute", left: 0, top: 0, background: "#fff" }} fontFamily={FONT}>
      <rect width={640} height={956} fill="#fff" />
      <Well1 />
      <Well2 />
      <Well3 />
    </svg>
  );
}
